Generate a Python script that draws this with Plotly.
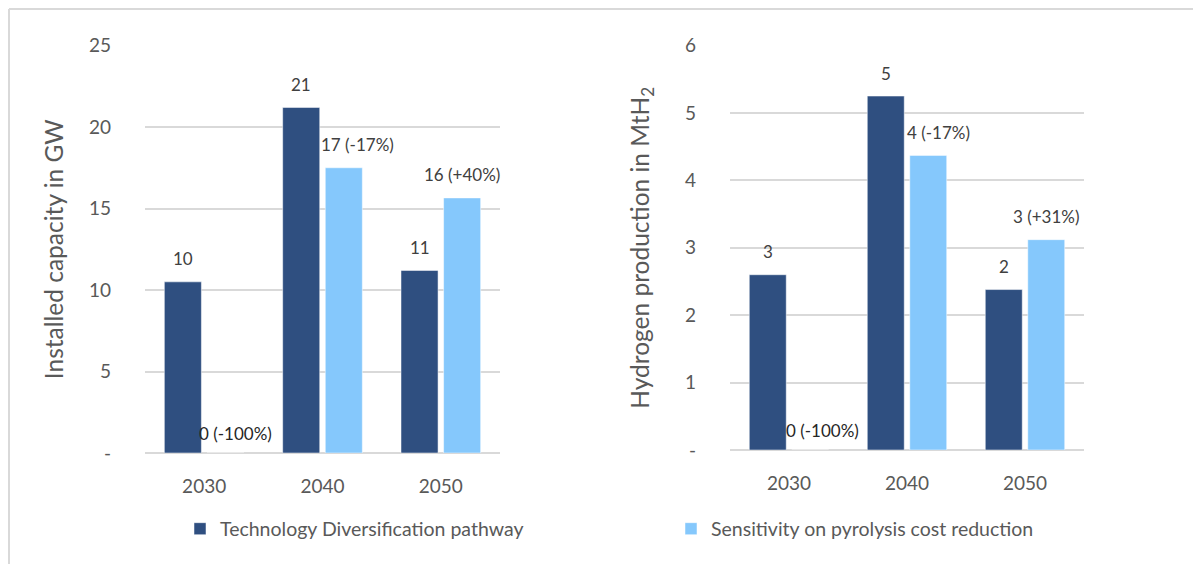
import plotly.graph_objects as go

# ---- data ----
years = ["2030", "2040", "2050"]
series_names = ["Technology Diversification pathway", "Sensitivity on pyrolysis cost reduction"]

capacity_base = [10.5, 21.2, 11.2]
capacity_sens = [0.0, 17.5, 15.65]
capacity_base_labels = ["10", "21", "11"]
capacity_sens_labels = ["0 (-100%)", "17 (-17%)", "16 (+40%)"]

hydrogen_base = [2.6, 5.25, 2.38]
hydrogen_sens = [0.0, 4.37, 3.12]
hydrogen_base_labels = ["3", "5", "2"]
hydrogen_sens_labels = ["0 (-100%)", "4 (-17%)", "3 (+31%)"]

capacity_ticks = [0, 5, 10, 15, 20, 25]
hydrogen_ticks = [0, 1, 2, 3, 4, 5, 6]

DARK = "#2F4F80"
LIGHT = "#85C8FC"
GRID = "#D9D9D9"
TXT = "#595959"
FONT = "Lato, Carlito, Calibri, sans-serif"

# the page body has an 8px margin, so the figure is drawn 8px in from the window edge
PAGE_OFF = 8
W, H = 1201 - PAGE_OFF, 564 - PAGE_OFF


def px(x):   # window pixel -> paper x
    return (x - PAGE_OFF) / W


def py(y):   # window pixel -> paper y
    return 1 - (y - PAGE_OFF) / H


BAR_OFF = 21.3           # px from category centre to each bar centre
LABEL_LIFT = 23          # px from bar top to label centre
# manual nudges like the Excel labels that were dragged sideways
sens_nudge_left = [10, 14, 0]
sens_nudge_right = [12, 10, 0]

fig = go.Figure()

fig.add_trace(go.Bar(x=years, y=capacity_base, name=series_names[0], marker_color=DARK,
                     marker_line=dict(color="white", width=0.5),
                     xaxis="x", yaxis="y", legendgroup="a", offsetgroup="a"))
fig.add_trace(go.Bar(x=years, y=capacity_sens, name=series_names[1], marker_color=LIGHT,
                     marker_line=dict(color="white", width=0.5),
                     xaxis="x", yaxis="y", legendgroup="b", offsetgroup="b"))
fig.add_trace(go.Bar(x=years, y=hydrogen_base, name=series_names[0], marker_color=DARK,
                     marker_line=dict(color="white", width=0.5),
                     xaxis="x2", yaxis="y2", legendgroup="a", offsetgroup="a", showlegend=False))
fig.add_trace(go.Bar(x=years, y=hydrogen_sens, name=series_names[1], marker_color=LIGHT,
                     marker_line=dict(color="white", width=0.5),
                     xaxis="x2", yaxis="y2", legendgroup="b", offsetgroup="b", showlegend=False))

# value labels above bars (x given as category index)
annotations = []
panels = [
    ("x", "y", capacity_base, capacity_base_labels, capacity_sens, capacity_sens_labels, sens_nudge_left),
    ("x2", "y2", hydrogen_base, hydrogen_base_labels, hydrogen_sens, hydrogen_sens_labels, sens_nudge_right),
]
for xr, yr, base, base_lab, sens, sens_lab, nudge in panels:
    for i in range(len(years)):
        annotations.append(dict(x=i, y=base[i], xref=xr, yref=yr, text=base_lab[i],
                                showarrow=False, xshift=-BAR_OFF, yshift=LABEL_LIFT,
                                font=dict(size=17, color="#404040", family=FONT)))
        annotations.append(dict(x=i, y=sens[i], xref=xr, yref=yr, text=sens_lab[i],
                                showarrow=False, xshift=BAR_OFF + nudge[i],
                                yshift=LABEL_LIFT - 3 * (sens[i] == 0),
                                font=dict(size=17, color="#262626" if sens[i] == 0 else "#404040",
                                          family=FONT)))


def yaxis_cfg(domain, anchor, ticks, rng, title, standoff):
    return dict(
        domain=domain, anchor=anchor, range=rng, tickvals=ticks, automargin=False,
        ticktext=["-" if t == 0 else str(t) for t in ticks],
        showgrid=True, gridcolor=GRID, gridwidth=2,
        zeroline=True, zerolinecolor=GRID, zerolinewidth=2,
        showline=False, ticks="", ticklabelstandoff=33,
        tickfont=dict(size=19, color=TXT, family=FONT),
        title=dict(text=title, font=dict(size=24.5, color=TXT, family=FONT), standoff=standoff),
        fixedrange=True,
    )


def xaxis_cfg(domain, anchor):
    return dict(
        domain=domain, anchor=anchor, type="category", range=[-0.5, len(years) - 0.5],
        automargin=False, showgrid=False, zeroline=False, showline=False, ticks="",
        ticklabelstandoff=20, tickfont=dict(size=19, color=TXT, family=FONT), fixedrange=True,
    )


fig.update_layout(
    width=W, height=H,
    margin=dict(l=0, r=0, t=0, b=0, autoexpand=False),
    paper_bgcolor="white", plot_bgcolor="white",
    barmode="group", bargap=0.28, bargroupgap=0.13,
    xaxis=xaxis_cfg([px(145), px(500)], "y"),
    xaxis2=xaxis_cfg([px(730), px(1084)], "y2"),
    yaxis=yaxis_cfg([py(453), py(45.5)], "x", capacity_ticks, [0, 25], "Installed capacity in GW", 18),
    yaxis2=yaxis_cfg([py(450), py(45.5)], "x2", hydrogen_ticks, [0, 6],
                     "Hydrogen production in MtH<sub>2</sub>", 28),
    showlegend=True,
    legend=dict(orientation="h", x=px(180), y=py(529), xanchor="left", yanchor="middle",
                entrywidth=446, entrywidthmode="pixels", traceorder="normal",
                font=dict(size=19.5, color=TXT, family=FONT), bgcolor="rgba(0,0,0,0)"),
    annotations=annotations,
    # light grey frame (top and left edges), as close to the window edge as the page allows
    shapes=[
        dict(type="line", xref="paper", yref="paper", x0=1 / W, x1=1, y0=1 - 1 / H, y1=1 - 1 / H,
             line=dict(color=GRID, width=2)),
        dict(type="line", xref="paper", yref="paper", x0=1 / W, x1=1 / W, y0=0, y1=1 - 1 / H,
             line=dict(color=GRID, width=2)),
    ],
)

fig.write_html("out.html")
